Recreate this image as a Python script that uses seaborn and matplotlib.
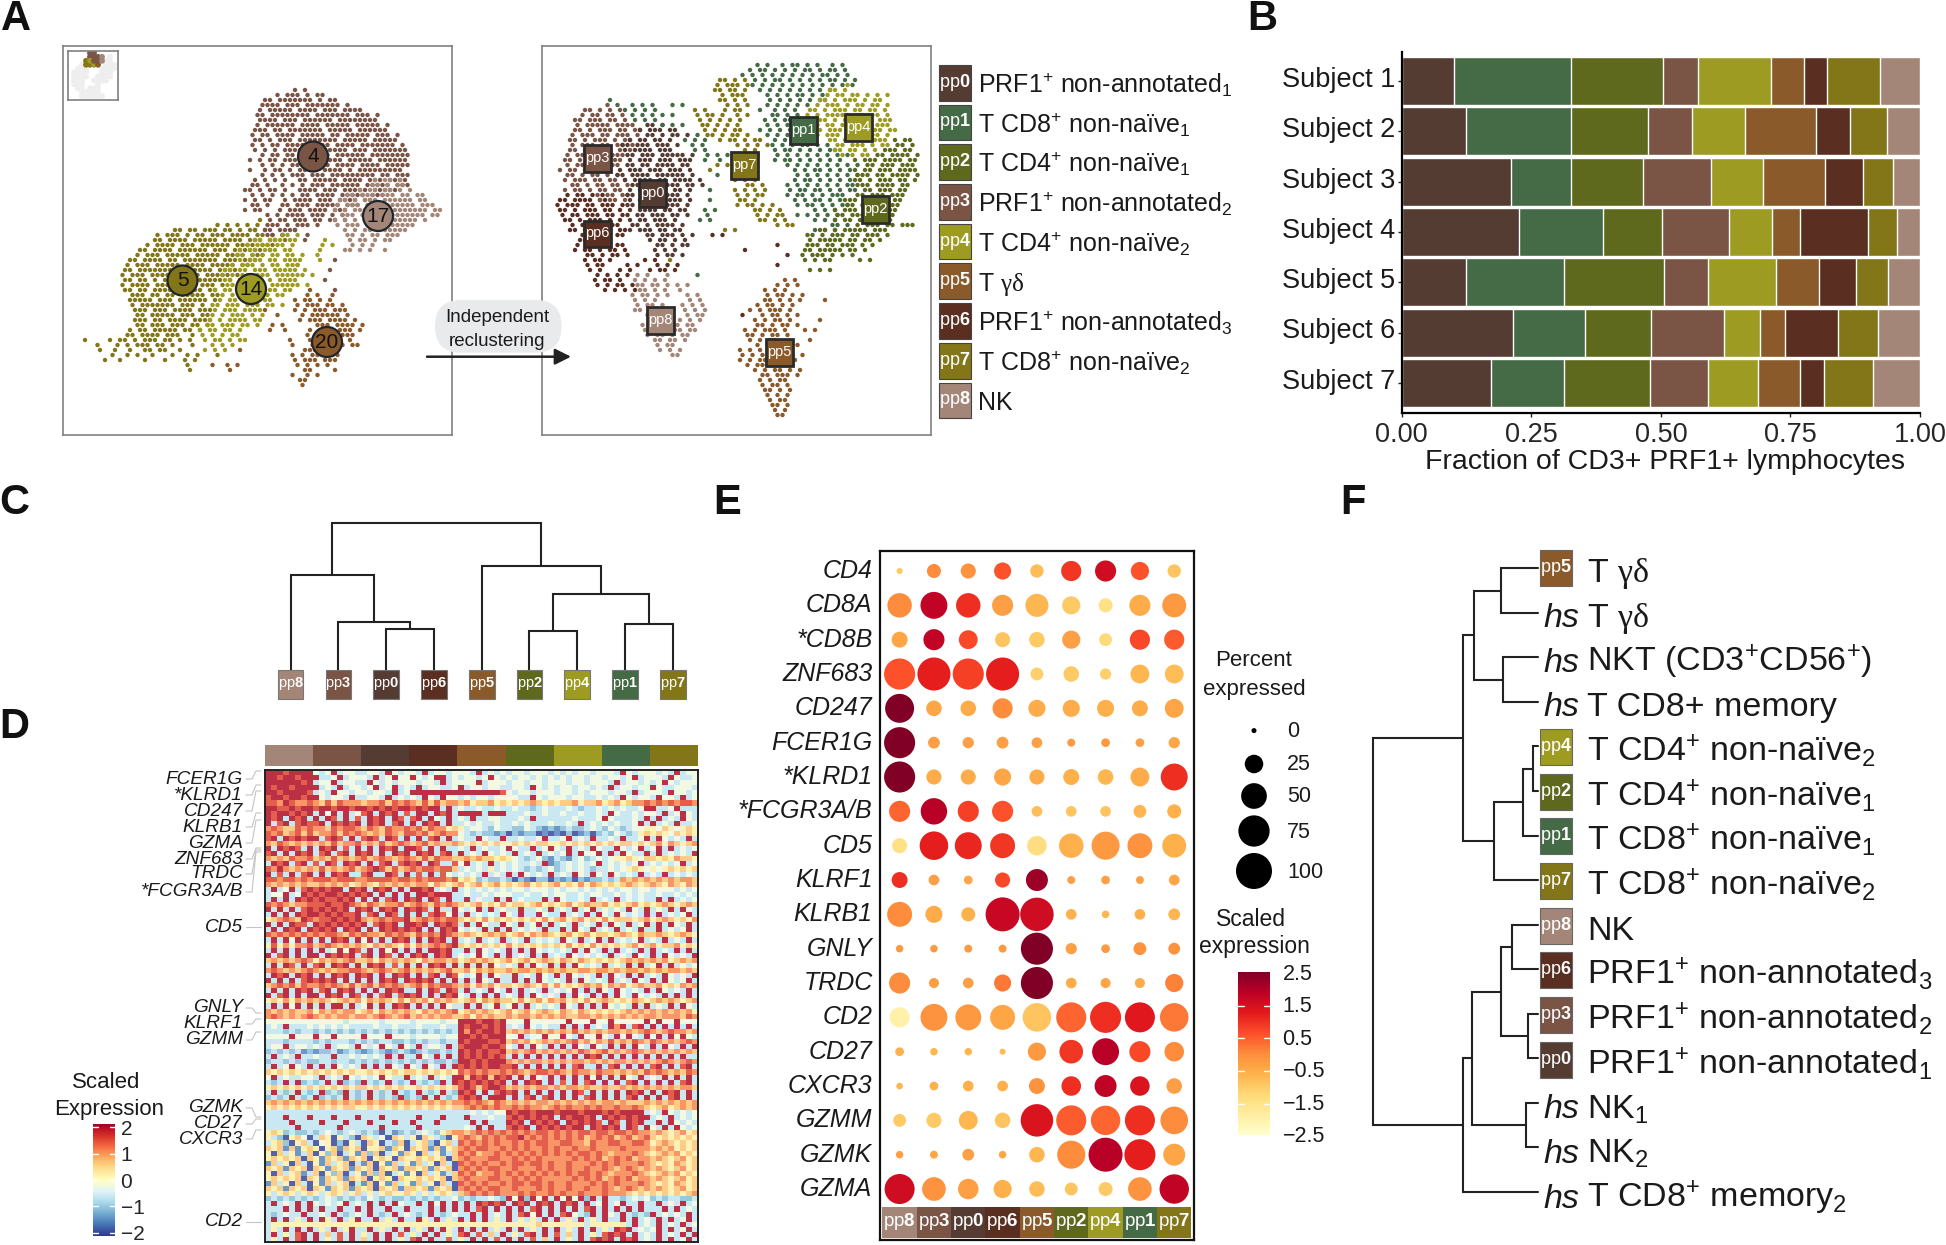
import numpy as np
import pandas as pd
import seaborn as sns
import matplotlib
matplotlib.use("Agg")
import matplotlib.pyplot as plt
from matplotlib.colors import ListedColormap
from matplotlib.patches import Rectangle, Circle, FancyBboxPatch

W, H = 1946, 1245

# --- Clusters ---
PP_COLORS = ["#553c33", "#456a46", "#5f691e", "#7a5445", "#9e9b22",
             "#8a5a2a", "#5a2f22", "#827618", "#a38678"]
PP_NAMES = [r"PRF1$^{+}$ non-annotated$_{1}$", r"T CD8$^{+}$ non-naïve$_{1}$",
            r"T CD4$^{+}$ non-naïve$_{1}$", r"PRF1$^{+}$ non-annotated$_{2}$",
            r"T CD4$^{+}$ non-naïve$_{2}$", r"T $\mathsf{\gamma\delta}$",
            r"PRF1$^{+}$ non-annotated$_{3}$", r"T CD8$^{+}$ non-naïve$_{2}$", "NK"]
LEAF_ORDER = [8, 3, 0, 6, 5, 2, 4, 1, 7]

# --- Panel A: point maps (row -> "start column:points") ---
LEFT_COLORS = {"a": "#7a5445", "b": "#a38678", "c": "#827618", "d": "#9e9b22", "e": "#8a5a2a"}
LEFT_MAP = [
    "42:a a", "38:a aaa a aa", "36:aa aaaaaaa a aa", "35:aaaa aaa aaaaaaa a",
    "35:a aaaaa aaaa aaa aaaa", "34:aa aaaaaaaa aaaaaaa aaa a", "35:aaaa aaa aaaaaa aaaaaaaa",
    "34:a aaaaaa aaaa aaaaa aaaaa a", "34:aaa aa aaaaaaa aaaaa aaaaaa",
    "33:a aa aaaa aaaaa aa aaaaa aaa a", "34:aa a aaa aaaaaaaa aaaaa aaaaa",
    "33:a a aa aaaa aaaa aaaa aaaaaaa a", "34:a a a aaaaa aaaaaaa aaa aaaaaaa",
    "35:a aa aa aaaa a aaaaaa aaaaaaaa", "33:a a aa aaaa aaaaaaa aaaaa aaaaaa",
    "35:a a a aa aaaaa aaaa aaaa aaaaa", "33:a  a aa a aaaa aaaa a aaaaaaaaa",
    "35:a a a aaa aaa aaaaaaaaa aa aaa", "34:a a a a  aa aaaaa aaaa aaa aaaa|58:b bb b",
    "33:aa a  a a a aaa aaaaaa aaaaa aaa|57:bb b bb", "32:aa a aa a  aaaa aaa aaaaa aaaaa|55:b bb bb b b",
    "33:a a a a a aa aaaa aaaaa aaa|52:bb bbb bbb bb bb", "32:a a aa  a aaaa aaa aaaa aa|51:bb b bbb bbbbbb bb",
    "33:aa a  aa aaa aaaaa aaa|50:b bbb bb bbbbbbb bbb", "32:a aa   a aaa aaaa aaa|50:b b bbb bbbbbbbbbbb bb",
    "36:a a aaaa aaa a a|51:bbb bb bbbbbbbbbb bb", "35:c a aa aaa aa aa a|50:b b b bb bbbbbbbb b",
    "26:c c c c c|36:aaa a aaa a|50:b bbb bb bbbbbbb", "18:cc cc ccc cc c cc c|34:c aa a aa|40:a a|52:b b bb bbbbbb",
    "14:c ccc c cc ccc cccc cc c c|36:aa a|39:dd d|44:a|52:bb b bb bbb",
    "14:cc cccc ccccc cccc ccc cc c|34:dd d|38:dd dd a|48:d|53:b bb b bb",
    "12:c cccc ccc cccccc cccc ccc|32:d ddd dd d|47:d d|53:b b b",
    "11:cc cccc cccccc ccc cccccc c|31:d dd ddd dd|47:d|52:bb b b|60:b",
    "10:c ccc ccccc ccccc cccc ccc|30:dd d d dd dd d|46:d", "9:cc cccc cc ccccccc ccc ccc|31:d ddd dd dddd|47:d|50:a",
    "8:c ccc ccccc cccc ccccc cc|29:d ddd d dd ddd|42:d", "8:cc ccccccc ccccccc cccc|28:dd dd ddd ddddd d|49:a",
    "7:c ccc cccccc ccc ccccc c|27:d d dd ddd dddddd|45:d", "8:cc cc c ccccc cccccc c c|28:dd d ddd d dddd|48:a",
    "7:c cccc cccc|20:cc ccc c|28:dd ddddd dddddd|44:d", "8:cc cc cccccc ccc cc|26:d dd ddddd dd dd|45:e|50:a",
    "9:ccc cc cc ccccc cc|27:d d dddd d dd|44:e e|49:e", "9:ccccc ccc cccccc|26:cd dd ddd dd|42:e ee e e",
    "9:c ccccccc ccc c|25:dd ddd ddd dd d|42:e eee ee e", "10:ccc ccc cccc ccc|26:d ddd dddd|36:e|42:e e eee eee",
    "10:cc ccccc ccc cc|25:d d ddd d d|38:e|43:e eeeeee e", "10:ccc cc cccc cccc|25:d d dddd dd|43:e|45:eee eeee e",
    "10:cc ccc ccc cc c|24:dd ddd dd d|37:e e|46:eee eeee e", "9:c cc ccccc cc c|23:d dd dd d|37:e|40:e|45:e eee eee e",
    "8:cc cccc ccc|21:c d d d dd|44:e e ee eee", "0:c|5:c cc c ccc cc c c|24:d dd d dd|41:e|45:e ee ee e",
    "2:c|6:c c ccc cc c|21:c|25:d d d|41:e|45:ee e ee ee", "3:c|6:c  c  cc c|16:c  c|24:d d d|31:e|44:eee eee",
    "5:c|8:c c|13:c|17:c|20:c c|26:c|41:e e|45:eee ee", "4:c|7:c|12:c|16:c|20:c c|42:e e|45:ee ee|50:e",
    "20:c|25:e|28:e|30:e|42:e|44:e e e", "21:c|29:e|44:ee|50:e", "41:e|44:e e", "43:ee", "43:e",
]
RIGHT_MAP = [
    "", "40:1 1  1 11 1 1  1 1", "39:1 11 1 1 1 11 1 11 1", "37:1 1 1 1 1 1 1 1 11 1 1",
    "33:77 7 7|40:1 1 11 1 1 1 1 11 1 1", "32:7 777 7|39:1 1 1 1 1 1 1 1 1 1 1|58:4",
    "32:77 77 7|41:1 1 1 1 1 1 1 1|55:44 4", "33:7 777|42:1 1 1 11 1 1|54:4 44 44 4 4 4",
    "11:1|33:77 7 7|43:1 1 1 1 1 11|53:44 4 444 4 44", "10:3 1|15:1 1 1|23:1 1|34:7 7 7|42:1 1 1 1 1|52:4 444 4 44 44 4",
    "6:33 3 3 3|14:1 1 1 1|28:7 7|34:7 77|41:1  1 1 1|51:44 4 444 44 44 4",
    "5:3 33 33 3|15:1 1 1 1 1|28:7 77 7|36:7 7|43:11 1 1|50:4 4 44|56:444 44444 4",
    "4:33 333 33 3|16:1 1 1|29:7 7 7 7|37:7|42:1 1 11|50:44 44 4|58:44 444 444",
    "4:3 33333 3333|18:00 0|21:1 1 1|29:77 7 7 7|42:1 1 1|50:444 44 444 44 444",
    "4:33 3 333 33 33|17:0 000 00|30:7 7 7 77|41:1 1 1 1|50:44 4 444 4444 44 44",
    "3:3 333 33 333 3|18:00 0 00 0|28:1 7|31:7 7 77 7|42:1 1 11 1 1|51:44 444 44 4444 4",
    "3:33 3 333 3 33|15:0 00 00 0|26:1 1 1|33:7 77 7 77|44:1 1 1 1 1|55:44 4444 4444|68:2 22",
    "3:3 333 33 33 3|13:00 000 000 0|27:1 1|36:7 7 7 7|43:1 1 1 11 1 1|56:44 444 4 44|68:22 2",
    "3:33 33 333 3 3|14:0 0000 000|28:1 1|38:7 7|44:1 11 1 1 1 11|56:44 44 4 4|66:222 22",
    "2:3 33 333 333|14:00 000 00000 0|30:1 1 1|36:7 7 7|44:1 1 1 1 1 1 1 1|57:4 4 44|64:22 2222 2",
    "2:33 3 33 3 33|15:0 000 000 000|30:1  1|44:1 11 1 1 1 1 1|60:2 222 2222 22",
    "2:3 333 33 33|14:00 00 0000 00|32:7 7|46:1 1 1 1 1 1 1 1|62:22 222 222",
    "1:3 33 33 333|13:0 000 000 000 0|31:7|48:1 1 11 1 1 1|60:2 22 222 2222",
    "2:33 3 33 3 3|12:00 0000 000000 0|32:1|48:1 1 1 1 1 1 1|60:222 22 2222 2",
    "2:3 333 33 33 3|14:0 0000 00 0000 0|36:7 7 7|48:1 11 1 1 1 1|60:22 2 222 22 2",
    "3:33 3 33 33 3|15:00 000 000 00 0|38:77 7|46:1 1 1 1 1 1 11|60:222 2222 22",
    "2:3 33 3 33 33|15:0 000000 00 0|31:1|36:7 7 7 7|47:1 11 11 1 1 11|62:22 222 22",
    "2:6 66 6 6|8:3 33 33|14:00 000 0000 0|36:7 7 77|46:1 11 1 1 111|60:22 222 222",
    "1:66 6666 66|9:3 33 3|15:0 000 00000 0|31:1|37:77 7|48:1 1 11 1 1|58:222 22 22 22",
    "0:6 666 66 666 6|14:00 0000 000 0|36:7 77 7 7|48:1 11 1 1 11|58:22 2222 222",
    "1:66 6 666 66 6|15:0 0000 00 00|30:1 1|40:77 7 7|52:1 1 1|56:2 222 22 2222",
    "1:6 66 666 66 66|16:00 000 00 0|30:1|40:7 7 77|48:1 1 1 1 1|56:22 222 222 2",
    "2:66 6 666 6 6|15:0 00 000 0|29:1 1|41:77 7 7|52:1 1 1|56:2 22 22222 2",
    "3:6 666 6 66|15:00 0 0000 0|44:7 77|55:11 1 2 222 22 222",
    "3:66 6 6 66 66|15:0 000 00 00|34:7 7|52:1 1 1|53:22 2 22222 222",
    "5:6 66 6 66|18:00 000 0 0|31:6 6|50:22 2 222 22 222 2", "5:66 6 66|19:0 00 0 0|51:2 22222 22 22 2",
    "4:6 6 666 66|20:00 0 00|44:6|50:222 22 222 2 2", "4:6 66 6 66 6|20:0 0 0|38:6|50:22 22222 22 2",
    "6:66 6 66 6|20:0 00 0|46:6|49:2 222 2 2 2", "6:6 66 6|18:6 6|23:7|50:2 2 22|61:2 2",
    "6:6 66|14:6 6|20:6 6 6|44:6", "7:6 6|13:6 6|19:6 66 6|51:2 2 2", "8:6 6 6 6|16:8 8|22:8|28:1",
    "8:6 66 6|16:8 8 8 8|46:5 5", "8:6 6 66 6|16:88 88 8 8 8|44:5 5 5", "10:6 6 6 6|17:88 8 8|25:8|42:5 5 5",
    "15:8 88 8 8|26:8 8|42:5 55 5 5", "16:8 8 8|27:8 8|42:55 5 5 5|54:5", "16:8 88 8|25:8 8 8|40:5 55 5 5",
    "16:88 8|26:8 8 8|39:5 5 555 5", "18:88|26:8 88|37:6|41:5 55 5 5", "25:8 8 8|40:5 5 55 5|53:5",
    "17:8 8 8|24:8 88|40:55 5 55 5", "18:88 88 88 88|38:5 5 555 5|50:5 5", "18:8 88 8 88|38:55 5 55 5",
    "20:88 88 8|39:5 5 55|51:5", "20:8 88|40:5 55 55 5", "21:8 8 8|37:5 5 5 5 5", "23:88|37:5 5 5 555 5 5",
    "37:5 5 55 5 5 5", "38:5 555 5 55", "40:5 5 55 5 5", "41:55 555 5", "41:5 5 55", "41:5 55 5", "42:55 5 5",
    "42:5 5 5", "43:5 55", "43:55 5", "44:5 5", "44:55",
]
INSET_COLORS = {"g": "#eeeeee", "a": "#7a5445", "b": "#a38678", "c": "#827618", "d": "#9e9b22", "e": "#8a5a2a"}
INSET_MAP = ["5:aa", "5:aaab|10:g", "4:c|5:daab|9:gg", "3:g|4:ccde|9:ggg", "2:ggg|8:gggg", "1:gggg|8:ggg",
             "1:gggg|7:gggg", "1:ggg|6:gggg", "1:ggg|7:g", "2:gg|5:ggg", "3:ggggg", "3:gggggg"]

CIRCLE_LABELS = ["4", "17", "5", "14", "20"]
CIRCLE_COLORS = ["#7a5445", "#a38678", "#827618", "#9e9b22", "#8a5a2a"]

# --- Panel B: fraction per subject ---
SUBJECTS = [f"Subject {i}" for i in range(1, 8)]
FRAC = [
    [.101, .125, .210, .226, .124, .215, .173],
    [.226, .202, .116, .162, .189, .139, .140],
    [.177, .149, .139, .115, .193, .127, .167],
    [.068, .085, .132, .128, .085, .141, .111],
    [.141, .102, .101, .084, .131, .069, .096],
    [.064, .136, .118, .054, .084, .049, .082],
    [.044, .065, .074, .130, .070, .101, .045],
    [.101, .073, .058, .056, .063, .078, .095],
    [.078, .063, .052, .045, .061, .081, .091],
]

# --- Panel C tree: (node, child, child, height) ---
C_LEAVES = [f"pp{i}" for i in LEAF_ORDER]
C_MERGES = [("m1", "pp0", "pp6", 41), ("m2", "pp3", "m1", 47.7), ("m3", "pp8", "m2", 95.3),
            ("m4", "pp2", "pp4", 39.3), ("m5", "pp1", "pp7", 45.7), ("m6", "m4", "m5", 75.7),
            ("m7", "pp5", "m6", 104), ("root", "m3", "m7", 147)]

# --- Panel D: scaled expression per row, digit 0-9 = -2..2, one block per cluster ---
HEAT_ROWS = [
    "99989999 43493443 34439434 43934434 44393434 34434443 43434434 44394344 43439344",
    "99899899 93349344 43934944 94349934 34434943 43443434 34344344 34434934 44394334",
    "99999989 34493443 39434344 43443934 44493444 34434434 44344344 43934434 34943444",
    "98998999 93439344 34934934 39344334 93443443 34439434 34434434 39344344 94334443",
    "99899998 34394434 43443934 99999999 99999998 43443444 34434344 43443934 44394434",
    "89989989 94344393 34439343 43943944 34344344 44339434 44344334 34394344 39443934",
    "88798778 76868777 67786878 76868677 67566756 56567656 56675667 56756778 78787887",
    "99889899 89989989 98989899 89899393 43343343 34332343 33432334 34343349 93349333",
    "98998989 39493934 89398938 39939893 99993999 33343343 34334334 39433434 43934943",
    "98939893 93983938 39893983 89394393 43933443 33439333 33343334 94333439 39343943",
    "93893898 89398989 39893893 93989393 34343343 34343334 33439343 43433493 93439334",
    "78766878 77687887 68768778 78687756 53443243 32243212 12322343 24323445 54654565",
    "87867868 67786878 76768768 87867877 43232212 02122010 10201202 32432356 56546565",
    "89398989 93898393 89839839 39389393 43394339 33433493 34934393 34393349 39434393",
    "76876767 67686778 67686787 67867667 65656565 56565665 56565656 56566565 67576567",
    "93989839 39893839 39398939 98393933 43934334 94339349 43934394 33943493 49393434",
    "89393989 38938939 89393989 39893893 93439434 39343934 34939449 39394339 39343439",
    "76768778 67686767 86787678 76868776 67676656 54323421 32134234 34556546 65657665",
    "39893893 83983989 39389389 89398338 49343934 34334391 23434349 34343493 43434934",
    "87976767 68676786 78986867 87887886 34343534 34323234 23434323 34345654 54565656",
    "93839389 39398933 89339839 38393843 43439343 93943439 34394394 39434393 43934343",
    "88788787 88878887 78888788 78788878 56523223 20210220 21202122 32376767 67676776",
    "76767676 67676756 76576767 67757656 75675675 65675656 75657576 56567656 76576576",
    "39349389 89899398 93989393 99893439 34343434 34434443 43443434 34344344 34443434",
    "34493498 98998989 89393939 39989993 34334344 43343343 44334344 33434343 34334343",
    "39393989 89889893 93938939 89398393 39343393 93433393 94334393 43934343 39393434",
    "87876778 88988987 68767786 78768787 65675657 56656756 56756766 75656756 56765676",
    "93939389 89898939 89398939 89839339 43493934 33933439 34393493 43439439 34393943",
    "39393989 98989889 38939839 39389849 39343439 43933943 39343939 43943439 39343493",
    "56787698 78898989 76787889 67878788 65657565 65656575 67567565 75666567 56765657",
    "93939883 98989898 93898939 98939898 39394339 43934939 34393439 39439349 39394393",
    "39398939 89893989 39398989 89393989 43439393 93434393 39394393 43934393 39343493",
    "87878787 87887687 87768787 68787987 67656767 56757676 56756756 65676576 67656765",
    "39394939 39398939 49393989 39398939 34393439 34393434 39439349 39343493 43934393",
    "58575778 67876767 65767657 57678789 65656565 75656565 65756575 65656756 75667565",
    "39393939 39349498 39394939 39399893 39394343 93939434 34393943 93934393 93439393",
    "93893939 93989893 89398393 98939893 43494393 93439393 43943434 39343943 93943439",
    "67676787 57676786 67576767 65767767 56767656 75675676 57657656 56567676 76756767",
    "39398393 89398939 39893839 39398939 39393943 43939439 39394343 93439393 49393434",
    "78767678 76767788 76787678 67676786 67576766 76776767 67667767 76767767 67677676",
    "39893989 39398939 89393989 39389398 43493943 39343943 93943439 39439393 43943439",
    "93939389 89893939 39398939 89893939 39394393 39393943 43939434 39343943 93943493",
    "67878687 78787686 78687876 78687887 67576756 65676575 75656767 57675676 67565767",
    "39393989 38939893 93939893 39398398 39343943 93934393 43493939 43943439 39434393",
    "93893939 93989398 39389389 89393989 43939393 43939434 39394393 93943943 43939393",
    "56575767 67656767 57676575 76757676 56757676 65756757 67565756 76565765 67676567",
    "39394939 39399393 49393989 39393943 39393493 49393434 39439393 94343939 34393943",
    "76767667 57676775 67576767 65767678 56767656 75675676 57657656 56567676 76767675",
    "78767678 76767767 76787678 67676776 67576766 76776767 67667767 67676767 76777687",
    "44444444 44444344 44434444 34444344 99989989 44494444 44944494 49444449 49449444",
    "34393334 34343433 33433433 34333433 98998989 34394343 39393934 39793893 93939393",
    "33323233 23232323 23232323 23232323 97989989 67676767 67686767 67767678 76787767",
    "44449444 94494444 94449444 34444344 99898999 44934494 49439449 43949439 49394943",
    "33323333 23233323 23233223 23233233 98999889 67675676 76786757 68676876 87676787",
    "34493443 43934439 43494394 39344393 89998998 43939439 39394394 39393943 93943939",
    "23232312 12231232 12321232 12322323 98989889 67678676 76768767 86767876 76767676",
    "39343933 43393343 43439393 39439393 98989898 39393939 39393989 39393939 39393933",
    "23323232 23323323 23232323 23232232 99898999 76767767 67677676 76776767 67876787",
    "39349439 39394343 93939439 43943939 89898998 89393939 39389339 38939393 89393893",
    "65656565 65656565 56565656 65656565 87878778 78767887 87687768 77676768 78767687",
    "49343344 39343943 43494339 34393439 96989698 93939439 39393949 39394393 43939393",
    "32393923 23939232 93239323 93232939 89898989 39398939 38393893 93938939 39393893",
    "56565656 56565656 65656565 56565656 89868998 67676776 76776766 76676767 67676776",
    "39323932 39232932 39323932 39323932 98939389 89393939 39398393 93939893 93989393",
    "23239323 92323932 39323292 32939323 89893999 39389389 39393893 93938939 39389393",
    "67676767 67676767 67676767 67676767 78787687 67676776 76767676 77676667 67676767",
    "56565656 56565665 56565656 56565656 67878787 78787767 87877878 77877876 56756767",
    "33333333 33333333 33333333 33333333 33434344 98998999 89998999 89899993 43943434",
    "33393339 33393339 33393333 39333933 39333433 89898989 39899893 98989899 34393434",
    "33339333 39333933 39333933 93339333 33939333 98939898 93989898 39839893 39394343",
    "33333933 33339333 33393333 39333333 34393933 89893989 89899398 98939839 43939434",
    "56523223 23432343 23203123 23432567 76787878 78787887 87878878 87887877 67656756",
    "53205640 36505320 65340653 50653205 78768787 88978787 87878678 78678678 65656565",
    "35620563 04502053 06503260 35620563 87878787 78787887 78877687 78877887 56765656",
    "65616156 50561656 05561650 65616156 78788778 78787787 87787787 77787777 67675656",
    "50635136 05260351 62603516 50635136 87867787 87878787 87878878 76777876 56767565",
    "56565606 51656165 60565065 56565606 78777887 78787877 77787878 67878677 67656756",
    "16350630 51635603 16051635 16350630 87878778 78878878 77877787 87877787 65657656",
    "65616560 65165616 56065616 65616560 78787887 78777878 77877877 87678767 67656756",
    "50635613 60526035 16260351 50635136 87867787 87878787 87878878 76777876 56767565",
    "56565606 51656165 60565065 56565606 78777887 78787877 77787878 67878677 67656756",
    "16350630 51635603 16051635 16350630 87878778 78878878 77877787 87877787 65657656",
    "65616560 65165616 56065616 65616560 78787887 78777878 77877877 87678767 67656756",
    "53565356 53565356 35356556 53535653 67878787 77878778 78778777 87776565 65656567",
    "23232323 23432323 24323223 23232334 23233432 94929493 94949293 93323434 23233223",
    "39343939 43434934 39393943 39394939 39398989 39893989 39893934 93493393 39343934",
    "33393939 39339339 39339339 33393939 39389393 93938939 39393893 93939393 33939343",
    "32343393 34393234 39323934 32393234 33939343 93894939 38943293 94393232 93434393",
    "39393539 39539359 33935393 39539353 93939353 93535393 93539353 93393934 39393493",
    "35555555 55555555 55555555 55555555 55555555 55555655 55555355 55553934 39343934",
    "35393939 35393593 39353939 35393953 93939353 93935393 93539393 53989343 49393493",
    "39353893 93638393 53939383 53939353 89383639 35389393 83639353 89893934 39343939",
    "35393893 93538393 63939353 89393383 53939383 93938363 93539389 89398934 39393493",
]
HEAT_GENES = ["FCER1G", "*KLRD1", "CD247", "KLRB1", "GZMA", "ZNF683", "TRDC", "*FCGR3A/B", "CD5",
              "GNLY", "KLRF1", "GZMM", "GZMK", "CD27", "CXCR3", "CD2"]
HEAT_GENE_Y = [779, 795, 811, 827, 843, 859, 874, 892, 927, 1008, 1024, 1040, 1108, 1124, 1139, 1222]
HEAT_GENE_ROW_Y = [771, 785, 791, 813, 820, 848, 850, 852, 927, 1013, 1019, 1032, 1117, 1119, 1130, 1222]

# --- Panel E ---
DOT_GENES = ["CD4", "CD8A", "*CD8B", "ZNF683", "CD247", "FCER1G", "*KLRD1", "*FCGR3A/B", "CD5", "KLRF1",
             "KLRB1", "GNLY", "TRDC", "CD2", "CD27", "CXCR3", "GZMM", "GZMK", "GZMA"]
DOT_PCT = [
    [1, 13.5, 16, 21, 12, 30, 33, 24, 12],
    [45, 55, 45, 33, 40, 24, 13.5, 33, 43],
    [18, 33, 26, 16, 17, 24, 11, 30, 30],
    [74, 84, 74, 84, 11, 17, 8, 26, 26],
    [64, 17, 17, 30, 21, 21, 21, 18, 26],
    [74, 9, 8, 9, 7, 3, 4, 4, 8],
    [74, 16, 16, 21, 16, 18, 17, 26, 55],
    [33, 53, 33, 33, 7, 7, 7, 11, 13.5],
    [16, 62, 55, 47, 28, 45, 60, 47, 43],
    [18, 7, 4, 16, 36, 3, 4, 3, 7],
    [47, 21, 13.5, 89, 86, 7, 2.5, 7, 9],
    [2.5, 2.5, 3, 3, 79, 8, 4, 11, 9],
    [33, 6, 7, 21, 79, 7, 6, 6, 24],
    [30, 55, 51, 47, 62, 69, 74, 69, 62],
    [4, 2.5, 2.5, 1, 24, 42, 55, 33, 28],
    [1.5, 4, 7, 7, 18, 28, 36, 28, 17],
    [11, 16, 26, 17, 81, 69, 66, 69, 58],
    [2.5, 3, 9, 2.5, 17, 60, 89, 74, 36],
    [69, 42, 31, 24, 17, 11, 13.5, 42, 66],
]
DOT_EXPR = [
    [-1.0, 0, -.1, .6, -.8, .9, 1.6, .6, -.9],
    [0, 1.8, 1, -.3, -.7, -1, -1.5, -.5, -.2],
    [-.4, 1.8, .7, -.9, -1, -.3, -1.3, .7, .5],
    [.6, 1.2, .8, 1.2, -1.1, -1, -1.1, -.7, -.8],
    [2.5, -.4, -.5, 0, -.5, -.5, -.6, -.5, -.4],
    [2.5, -.3, -.3, -.3, -.3, -.2, -.2, -.3, -.4],
    [2.5, -.5, -.5, -.4, -.5, -.6, -.7, -.5, 1],
    [.4, 1.9, .8, .6, -.8, -.9, -.9, -.7, -.6],
    [-1.5, 1.2, 1.1, .9, -1.4, -.6, -.2, -.1, -.6],
    [1, -.3, -.4, .7, 2.2, -.3, -.3, -.3, -.4],
    [0, -.5, -.6, 1.7, 1.6, -.6, -.7, -.6, -.7],
    [-.2, -.2, -.2, -.2, 2.5, -.3, -.2, -.1, -.1],
    [0, -.3, -.3, .2, 2.5, -.5, -.4, -.5, .1],
    [-2, -.1, -.2, -.4, -.9, .4, 1, 1.3, .2],
    [-.6, -.7, -.7, -.8, -.2, .9, 1.9, .7, 0],
    [-.7, -.6, -.6, -.6, -.1, 1, 1.8, 1.4, -.3],
    [-1, -1, -.7, -.9, 1.4, .5, .4, 1, 0],
    [-.3, -.4, -.3, -.4, -.7, 0, 1.9, 1.2, -.4],
    [1.6, -.1, -.3, -.6, -.8, -.9, -1, -.1, 1.8],
]
SIZE_LEVELS = [0, 25, 50, 75, 100]
EXPR_LEVELS = ["2.5", "1.5", "0.5", "\u22120.5", "\u22121.5", "\u22122.5"]

# --- Panel F tree ---
F_LEAVES = ["pp5", "gd", "nkt", "cd8m", "pp4", "pp2", "pp1", "pp7", "pp8", "pp6", "pp3", "pp0", "nk1", "nk2", "cd8m2"]
F_TEXT = {"gd": r"T $\mathsf{\gamma\delta}$", "nkt": r"NKT (CD3$^{+}$CD56$^{+}$)", "cd8m": "T CD8+ memory",
          "nk1": r"NK$_{1}$", "nk2": r"NK$_{2}$", "cd8m2": r"T CD8$^{+}$ memory$_{2}$"}
F_MERGES = [("n1", "pp5", "gd", 37.1), ("n2", "nkt", "cd8m", 35.2), ("n3", "n1", "n2", 63.8),
            ("n4", "pp4", "pp2", 5.4), ("n5", "n4", "pp1", 14.7), ("n6", "n5", "pp7", 43.7),
            ("n7", "n3", "n6", 75.4), ("n8", "pp8", "pp6", 25.9), ("n9", "pp3", "pp0", 10),
            ("n10", "n8", "n9", 37.1), ("n11", "nk1", "nk2", 12), ("n12", "n10", "n11", 65.7),
            ("n13", "n12", "cd8m2", 75.4), ("root", "n7", "n13", 165)]

# --- Setup ---
sns.set_theme(style="white")
plt.rcParams["font.family"] = ["Liberation Sans", "DejaVu Sans"]
plt.rcParams["mathtext.fontset"] = "custom"
plt.rcParams["mathtext.rm"] = "Liberation Sans"
plt.rcParams["mathtext.it"] = "Liberation Sans:italic"
plt.rcParams["mathtext.bf"] = "Liberation Sans:bold"
plt.rcParams["mathtext.sf"] = "Liberation Serif"
plt.rcParams["mathtext.default"] = "regular"
plt.rcParams["text.color"] = "#1a1a1a"

fig = plt.figure(figsize=(W / 100, H / 100), dpi=100)


def px_ax(x0, y0, x1, y1):
    return fig.add_axes([x0 / W, 1 - y1 / H, (x1 - x0) / W, (y1 - y0) / H])


def parse_map(rows, stagger=True):
    recs = []
    for r, row in enumerate(rows):
        if not row:
            continue
        for seg in row.split("|"):
            start, pattern = seg.split(":")
            for i, ch in enumerate(pattern):
                if ch != " ":
                    off = 0.5 * (r % 2) if stagger else 0
                    recs.append((int(start) + i + off, -r, ch))
    return pd.DataFrame(recs, columns=["x", "y", "cluster"])


def tree_lines(leaves, merges):
    pos = {n: i for i, n in enumerate(leaves)}
    hgt = {n: 0 for n in leaves}
    segs = []
    for name, a, b, h in merges:
        segs.append(([pos[a], pos[a], pos[b], pos[b]], [hgt[a], h, h, hgt[b]]))
        pos[name] = (pos[a] + pos[b]) / 2
        hgt[name] = h
    return segs


over = px_ax(0, 0, W, H)
over.set_xlim(0, W)
over.set_ylim(H, 0)
over.axis("off")
over.set_zorder(10)
over.set_autoscale_on(False)


def pp_box(x, y, w, h, n, size, bold=True, ec="#444444", lw=0.8):
    over.add_patch(Rectangle((x - w / 2, y - h / 2), w, h, fc=PP_COLORS[n], ec=ec, lw=lw))
    label = rf"pp$\mathbf{{{n}}}$" if bold else f"pp{n}"
    over.text(x, y - 0.5, label, color="white", fontsize=size, ha="center", va="center")


for letter, x, y in [("A", 16, 19), ("B", 1262, 19), ("C", 14, 503), ("D", 14, 727), ("E", 727, 503), ("F", 1353, 503)]:
    over.text(x, y, letter, fontsize=30, fontweight="bold", ha="center", va="center", color="#111111")

# --- Panel A ---
ax_left = px_ax(63, 46, 452, 435)
left_df = parse_map(LEFT_MAP)
sns.scatterplot(data=left_df, x="x", y="y", hue="cluster", palette=LEFT_COLORS, s=10, linewidth=0, legend=False, ax=ax_left)
ax_left.set_xlim(-4.4, 73.4)
ax_left.set_ylim(-69, 8.8)

ax_right = px_ax(542, 46, 931, 435)
right_df = parse_map(RIGHT_MAP)
right_colors = {str(i): c for i, c in enumerate(PP_COLORS)}
sns.scatterplot(data=right_df, x="x", y="y", hue="cluster", palette=right_colors, s=10, linewidth=0, legend=False, ax=ax_right)
ax_right.set_xlim(-2.6, 75.2)
ax_right.set_ylim(-75, 2.8)

ax_inset = px_ax(68, 51, 118, 100)
inset_df = parse_map(INSET_MAP, stagger=False)
inset_df["order"] = (inset_df["cluster"] != "g").astype(int)
sns.scatterplot(data=inset_df.sort_values("order"), x="x", y="y", hue="cluster", palette=INSET_COLORS, s=18,
                linewidth=0, legend=False, ax=ax_inset)
ax_inset.set_xlim(-0.5, 12)
ax_inset.set_ylim(-12, 0.5)

for a in (ax_left, ax_right, ax_inset):
    a.set(xticks=[], yticks=[], xlabel="", ylabel="")
    for s in a.spines.values():
        s.set_color("#808080")
        s.set_linewidth(1.2)

for lab, col, cx, cy in zip(CIRCLE_LABELS, CIRCLE_COLORS, [313, 378, 182.5, 251, 327], [156.5, 216, 280.5, 289, 342]):
    over.add_patch(Circle((cx, cy), 15, fc=col, ec="#20262b", lw=1.6))
    over.text(cx, cy + 0.5, lab, fontsize=15, ha="center", va="center", color="#111111")

for n, cx, cy in [(3, 597.7, 158.3), (0, 652, 193.3), (6, 597, 234), (8, 660, 320.7), (5, 779.5, 352.3),
                  (7, 744, 165.7), (1, 803.4, 130.3), (4, 858, 127.7), (2, 875, 209.3)]:
    pp_box(cx, cy, 27, 26.7, n, 10.5, bold=False, ec="#2b2b2b", lw=2)

over.add_patch(FancyBboxPatch((435, 300), 126.5, 52.7, boxstyle="round,pad=0,rounding_size=26", fc="#e9eaec", ec="none"))
over.text(497, 318, "Independent", fontsize=13.5, ha="center", va="center")
over.text(497, 341, "reclustering", fontsize=13.5, ha="center", va="center")
over.annotate("", xy=(571, 356.7), xytext=(427, 356.7),
              arrowprops=dict(arrowstyle="-|>", lw=1.8, color="#222222", mutation_scale=24, shrinkA=0, shrinkB=0))

for i, name in enumerate(PP_NAMES):
    yc = 82.8 + 39.7 * i
    pp_box(955, yc, 32, 35.7, i, 13)
    over.text(978, yc + 10, name, fontsize=18, va="baseline", ha="left")

# --- Panel B ---
ax_b = px_ax(1401.7, 52, 1920, 413)
frac = np.array(FRAC)
for i in range(len(PP_COLORS) - 1, -1, -1):
    sns.barplot(x=frac[: i + 1].sum(axis=0), y=SUBJECTS, color=PP_COLORS[i], width=0.955, saturation=1,
                orient="h", ax=ax_b)
ax_b.set_xlim(0, 1)
ax_b.set_ylim(6.6, -0.58)
ax_b.set_xticks([0, .25, .5, .75, 1])
ax_b.set_xticklabels(["0.00", "0.25", "0.50", "0.75", "1.00"])
ax_b.set(xlabel="", ylabel="")
ax_b.tick_params(axis="x", bottom=True, length=3, width=1, labelsize=19.5, pad=3.5, color="#222222")
ax_b.tick_params(axis="y", left=True, length=3, width=1, labelleft=False, color="#222222")
for i, subj in enumerate(SUBJECTS):
    over.text(1395, 80 + 50.3 * i, subj, fontsize=19.5, ha="right", va="center")
sns.despine(ax=ax_b)
for s in ("left", "bottom"):
    ax_b.spines[s].set_color("black")
    ax_b.spines[s].set_linewidth(1.6)
over.text(1665.4, 462, "Fraction of CD3+ PRF1+ lymphocytes", fontsize=20.5, ha="center", va="center")

# --- Panel C ---
ax_c = px_ax(266.7, 521, 696.5, 670)
for p, h in tree_lines(C_LEAVES, C_MERGES):
    ax_c.plot(p, h, color="#222222", lw=1.5, solid_joinstyle="miter")
ax_c.set_xlim(-0.5, 8.5)
ax_c.set_ylim(0, 149)
ax_c.axis("off")
for i, n in enumerate(LEAF_ORDER):
    pp_box(290.6 + 47.77 * i, 684.5, 25.7, 29, n, 10.5, ec="#777777")

# --- Panel D ---
cluster_idx = np.array([LEAF_ORDER])
ax_bar = px_ax(265.3, 745, 697.7, 766)
sns.heatmap(cluster_idx, cmap=ListedColormap(PP_COLORS), vmin=0, vmax=8, cbar=False, xticklabels=False,
            yticklabels=False, ax=ax_bar)

heat = np.array([[-2 + 4 * int(ch) / 9 for ch in r.replace(" ", "").ljust(72, "4")[:72]] for r in HEAT_ROWS])
ax_heat = px_ax(265.3, 770, 698, 1242)
ax_hcb = px_ax(92.7, 1124.4, 115, 1235.6)
sns.heatmap(heat, cmap="RdYlBu_r", vmin=-2.1, vmax=2.1, alpha=0.85, xticklabels=False, yticklabels=False, ax=ax_heat, cbar_ax=ax_hcb)
for s in ax_heat.spines.values():
    s.set_visible(True)
    s.set_color("#222222")
    s.set_linewidth(1.4)
hcb = ax_heat.collections[0].colorbar
hcb.solids.set_alpha(1)
hcb.set_ticks([2, 1, 0, -1, -2])
hcb.set_ticklabels(["2", "1", "0", "\u22121", "\u22122"])
hcb.ax.tick_params(length=0, labelsize=15, pad=4)
hcb.outline.set_visible(False)
for v in [2, 1, 0, -1, -2]:
    hcb.ax.plot([0, 0.22], [v, v], color="white", lw=1, transform=hcb.ax.get_yaxis_transform())
    hcb.ax.plot([0.78, 1], [v, v], color="white", lw=1, transform=hcb.ax.get_yaxis_transform())
over.text(106, 1082, "Scaled", fontsize=16, ha="center", va="center")
over.text(109, 1109, "Expression", fontsize=16, ha="center", va="center")

for gene, y, yrow in zip(HEAT_GENES, HEAT_GENE_Y, HEAT_GENE_ROW_Y):
    over.text(243, y, gene, fontsize=13.7, style="italic", ha="right", va="center")
    over.plot([246, 252, 256, 261], [y, y, yrow, yrow], color="#c4c4c4", lw=0.8)

# --- Panel E ---
dot_df = pd.DataFrame({
    "col": np.tile(np.arange(9), len(DOT_GENES)),
    "row": np.repeat(np.arange(len(DOT_GENES)), 9),
    "pct": np.ravel(DOT_PCT),
    "expr": np.ravel(DOT_EXPR),
})
ax_e = px_ax(879.6, 551.4, 1194, 1239.5)
sns.scatterplot(data=dot_df, x="col", y="row", hue="expr", hue_norm=(-2.5, 2.5), palette="YlOrRd", size="pct",
                sizes=(13, 672), size_norm=(0, 100), linewidth=0, legend=False, ax=ax_e)
ax_e.set_xlim(-0.583, 8.576)
ax_e.set_ylim(19.47, -0.571)
ax_e.set_xticks([])
ax_e.set_yticks([])
ax_e.set(xlabel="", ylabel="")
for i, gene in enumerate(DOT_GENES):
    over.text(872.5, 571 + 34.33 * i, gene, fontsize=18, style="italic", ha="right", va="center")
for s in ax_e.spines.values():
    s.set_color("#111111")
    s.set_linewidth(1.6)

ax_eb = px_ax(882.4, 1206.7, 1191.4, 1237.7)
sns.heatmap(cluster_idx, cmap=ListedColormap(PP_COLORS), vmin=0, vmax=8, cbar=False, xticklabels=False,
            yticklabels=False, ax=ax_eb)
for i, n in enumerate(LEAF_ORDER):
    over.text(899.6 + 34.33 * i, 1222, rf"pp$\mathbf{{{n}}}$", color="white", fontsize=13.5, ha="center", va="center")

over.text(1254, 661, "Percent", fontsize=16, ha="center", va="center")
over.text(1254, 689, "expressed", fontsize=16, ha="center", va="center")
size_y = [730.6, 764, 796, 831, 871]
sns.scatterplot(x=[1254] * 5, y=size_y, size=SIZE_LEVELS, sizes=(13, 672), size_norm=(0, 100), color="black",
                linewidth=0, legend=False, ax=over)
for v, y in zip(SIZE_LEVELS, size_y):
    over.text(1287, y + 1, str(v), fontsize=15.5, ha="left", va="center")

over.text(1250.6, 920, "Scaled", fontsize=16.5, ha="center", va="center")
over.text(1254, 947, "expression", fontsize=16.5, ha="center", va="center")
ax_ecb = px_ax(1238, 972, 1270, 1135)
sns.heatmap(np.linspace(2.5, -2.5, 200)[:, None], cmap="YlOrRd", vmin=-2.5, vmax=2.5, cbar=False,
            xticklabels=False, yticklabels=False, ax=ax_ecb)
for lab, y in zip(EXPR_LEVELS, [973, 1005.6, 1038.4, 1070.8, 1103.6, 1135.6]):
    over.text(1282.5, y + 1, lab, fontsize=15.5, ha="left", va="center")
    if lab not in ("2.5", "\u22122.5"):
        over.plot([1238, 1244], [y, y], color="white", lw=1)
        over.plot([1264, 1270], [y, y], color="white", lw=1)

# --- Panel F ---
ax_f = px_ax(1373, 545.95, 1538, 1214.3)
for p, h in tree_lines(F_LEAVES, F_MERGES):
    ax_f.plot(h, p, color="#222222", lw=1.5, solid_joinstyle="miter")
ax_f.set_xlim(165, 0)
ax_f.set_ylim(14.5, -0.5)
ax_f.axis("off")
for a in (ax_c, ax_f):
    for line in a.lines:
        line.set_clip_on(False)

for i, leaf in enumerate(F_LEAVES):
    yc = 568.3 + 44.67 * i
    if leaf.startswith("pp"):
        n = int(leaf[2:])
        pp_box(1555.6, yc, 32, 36, n, 13, ec="#666666")
        over.text(1587.4, yc + 14, PP_NAMES[n], fontsize=24.5, va="baseline", ha="left")
    else:
        over.text(1543, yc + 14, "hs", fontsize=24.5, style="italic", va="baseline", ha="left")
        over.text(1587.4, yc + 14, F_TEXT[leaf], fontsize=24.5, va="baseline", ha="left")

fig.savefig("out.png", dpi=100)
